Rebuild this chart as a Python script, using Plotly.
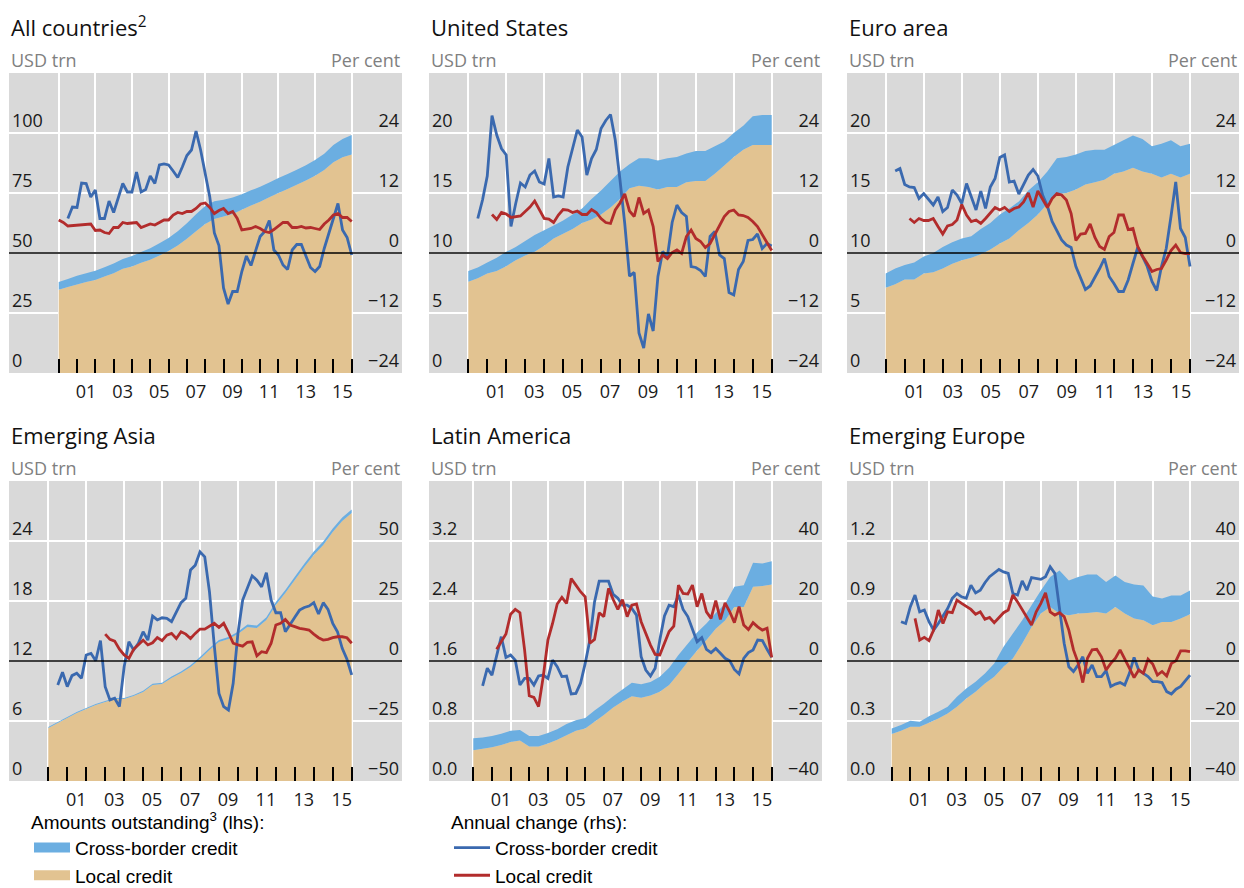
import plotly.graph_objects as go

W, H = 1244, 888

# quarterly grid for the annual-change lines, half-yearly grid for the stocks
quarters = [2000 + q / 4 for q in range(65)]
half_years = [2000 + h / 2 for h in range(33)]
tick_years = list(range(2000, 2017))
grid_years = list(range(2000, 2017, 2))
year_labels = ["", "01", "", "03", "", "05", "", "07", "", "09", "", "11", "", "13", "", "15", ""]

titles = ["All countries<sup>2</sup>", "United States", "Euro area",
          "Emerging Asia", "Latin America", "Emerging Europe"]

# ---- amounts outstanding (USD trn), half-yearly 2000-2016
ac_local = [34.7, 35.8, 36.9, 37.9, 38.8, 40.2, 41.6, 43.4, 44.4, 45.9, 47.2, 49.0, 50.8, 53.1, 55.9, 59.1, 62.1,
            64.2, 65.2, 66.3, 68.0, 69.8, 71.4, 73.2, 75.0, 76.7, 78.4, 80.2, 82.2, 84.6, 87.8, 89.9, 91.0]
ac_cross = [3.2, 3.4, 3.6, 3.7, 3.8, 3.9, 4.0, 4.1, 4.3, 4.5, 4.8, 5.1, 5.5, 6.0, 6.5, 7.0, 7.5,
            7.4, 7.0, 6.8, 6.5, 6.3, 6.2, 6.2, 6.2, 6.2, 6.3, 6.4, 6.6, 6.8, 7.2, 7.6, 8.2]
us_local = [7.6, 7.9, 8.3, 8.5, 8.9, 9.4, 9.8, 10.1, 10.6, 11.2, 11.6, 12.0, 12.5, 12.8, 13.2, 13.8, 14.5,
            15.4, 15.6, 15.5, 15.3, 15.5, 15.5, 15.9, 16.0, 16.0, 16.6, 17.3, 18.0, 18.6, 19.0, 19.0, 19.0]
us_cross = [0.9, 0.9, 0.9, 1.1, 1.2, 1.1, 1.2, 1.4, 1.3, 1.1, 1.1, 1.2, 1.2, 1.7, 2.0, 2.2, 2.3,
            2.0, 2.3, 2.4, 2.4, 2.4, 2.5, 2.4, 2.5, 2.5, 2.3, 2.0, 2.0, 2.0, 2.4, 2.5, 2.5]
ea_local = [7.1, 7.4, 7.8, 7.8, 8.3, 8.4, 8.7, 9.1, 9.4, 9.6, 9.9, 10.3, 10.8, 11.2, 11.9, 12.5, 13.2,
            14.1, 14.9, 15.0, 15.3, 15.7, 15.9, 16.1, 16.6, 16.8, 17.1, 16.8, 16.6, 16.3, 16.6, 16.3, 16.6]
ea_cross = [1.2, 1.3, 1.2, 1.4, 1.4, 1.6, 1.8, 1.8, 1.8, 1.8, 2.1, 2.2, 2.4, 2.5, 2.4, 2.7, 2.7,
            2.7, 3.0, 3.0, 2.9, 2.8, 2.7, 2.5, 2.4, 2.6, 2.7, 2.7, 2.3, 2.8, 2.8, 2.6, 2.5]
asia_local = [5.3, 5.8, 6.3, 6.8, 7.2, 7.6, 7.9, 8.2, 8.2, 8.5, 8.9, 9.6, 9.7, 10.3, 10.8, 11.4, 12.2,
              13.1, 13.9, 14.2, 14.7, 15.4, 15.3, 16.1, 17.6, 18.8, 20.1, 21.4, 22.6, 23.6, 24.9, 26.0, 26.8]
asia_cross = [0.1, 0.1, 0.1, 0.1, 0.1, 0.1, 0.1, 0.1, 0.1, 0.1, 0.12, 0.12, 0.12, 0.14, 0.15, 0.18, 0.2,
              0.2, 0.2, 0.2, 0.22, 0.25, 0.25, 0.28, 0.3, 0.3, 0.32, 0.32, 0.35, 0.35, 0.35, 0.35, 0.35]
latam_local = [0.41, 0.43, 0.45, 0.48, 0.52, 0.54, 0.46, 0.46, 0.50, 0.55, 0.61, 0.67, 0.70, 0.79, 0.88, 0.98, 1.06,
               1.13, 1.11, 1.14, 1.19, 1.28, 1.43, 1.59, 1.74, 1.88, 2.03, 2.14, 2.32, 2.32, 2.59, 2.60, 2.62]
latam_cross = [0.16, 0.15, 0.15, 0.15, 0.15, 0.14, 0.14, 0.14, 0.14, 0.14, 0.15, 0.14, 0.14, 0.15, 0.15, 0.15, 0.16,
               0.18, 0.18, 0.18, 0.20, 0.23, 0.25, 0.24, 0.24, 0.22, 0.21, 0.22, 0.27, 0.29, 0.32, 0.30, 0.31]
emeur_local = [0.235, 0.251, 0.271, 0.271, 0.291, 0.313, 0.338, 0.371, 0.413, 0.446, 0.488, 0.521, 0.571, 0.612,
               0.687, 0.770, 0.837, 0.870, 0.837, 0.829, 0.837, 0.840, 0.845, 0.837, 0.870, 0.837, 0.812, 0.804,
               0.779, 0.795, 0.795, 0.812, 0.834]
emeur_cross = [0.028, 0.029, 0.030, 0.025, 0.033, 0.033, 0.033, 0.050, 0.050, 0.050, 0.049, 0.066, 0.100, 0.125,
               0.117, 0.109, 0.116, 0.150, 0.216, 0.174, 0.183, 0.193, 0.188, 0.158, 0.158, 0.158, 0.171, 0.174,
               0.144, 0.117, 0.133, 0.116, 0.119]

# ---- annual change (per cent), quarterly 2000-2016
ac_cross_chg = [None, None, 6.9, 9.2, 9.1, 14.0, 13.9, 11.2,
                12.6, 6.9, 6.9, 10.4, 8.1, 11.0, 13.9, 12.2,
                12.2, 16.2, 12.2, 12.7, 15.4, 13.9, 17.6, 17.8,
                17.6, 16.4, 15.1, 17.2, 19.5, 20.6, 24.4, 20.6,
                16.0, 11.2, 4.0, 1.5, -7.0, -10.2, -7.7, -7.7,
                -3.7, -0.6, -2.5, 0.6, 3.3, 4.3, 6.5, 0.6,
                -0.4, -2.4, -3.3, 0.6, 1.7, 1.7, -0.7, -2.9,
                -3.7, -2.7, 0.9, 3.9, 6.6, 9.9, 4.6, 3.1, -0.4]
ac_local_chg = [6.6, 6.1, 5.4, 5.5, 5.6, 5.6, 5.7, 5.8,
                4.5, 4.6, 4.1, 3.9, 5.1, 5.1, 6.1, 5.9,
                6.0, 6.1, 5.1, 5.5, 5.8, 5.6, 6.1, 6.6,
                6.6, 7.6, 8.1, 7.9, 8.3, 8.3, 8.9, 9.8,
                10.0, 9.1, 7.9, 8.5, 8.9, 7.9, 8.3, 6.9,
                4.6, 4.7, 4.9, 5.3, 4.9, 4.3, 4.1, 4.7,
                5.4, 6.1, 6.1, 5.1, 5.1, 5.3, 5.0, 5.1,
                4.9, 4.7, 5.8, 6.6, 7.6, 7.9, 7.1, 7.1, 6.3]
us_cross_chg = [None, None, 6.9, 10.6, 15.4, 27.5, 23.6, 20.9,
                19.6, 5.3, 9.9, 14.0, 13.2, 15.6, 16.4, 14.2,
                13.8, 18.9, 11.2, 11.4, 11.2, 17.2, 20.9, 24.6,
                23.2, 15.6, 18.9, 20.7, 24.9, 26.5, 27.7, 22.6,
                14.6, 5.9, -4.6, -3.9, -16.0, -19.0, -12.2, -15.6,
                -4.7, 0.3, -0.7, 6.1, 9.6, 8.1, 7.3, -2.7,
                -2.9, -3.5, -4.7, 3.3, 4.3, -0.4, -1.1, -7.9,
                -8.4, -3.3, -1.7, 2.5, 2.7, 3.8, 0.9, 1.9, 1.4]
us_local_chg = [None, None, None, None, None, 7.7, 6.7, 8.1,
                7.8, 7.1, 7.2, 7.4, 8.3, 9.2, 10.4, 8.6,
                6.9, 6.8, 6.1, 7.6, 8.7, 8.6, 8.1, 8.4,
                7.7, 7.7, 8.7, 8.1, 6.9, 6.1, 5.9, 8.6,
                10.0, 11.8, 8.4, 7.3, 11.1, 7.9, 8.6, 5.3,
                -1.7, -0.4, -1.1, 0.1, 0.6, -0.1, 3.3, 4.6,
                2.9, 2.3, 1.1, 1.9, 3.6, 5.6, 7.3, 8.3,
                8.6, 7.6, 7.5, 7.1, 6.3, 5.3, 3.6, 1.9, 0.5]
ea_cross_chg = [None, None, 16.4, 16.9, 13.7, 13.2, 13.1, 10.9,
                11.9, 10.7, 9.6, 11.2, 8.3, 9.1, 12.6, 11.6,
                9.9, 13.9, 11.2, 8.6, 12.4, 8.9, 13.2, 14.9,
                19.1, 19.6, 14.2, 14.4, 11.8, 13.6, 15.6, 16.7,
                15.4, 11.6, 9.4, 6.3, 4.3, 2.6, 1.6, 1.1,
                -2.7, -5.1, -7.3, -6.6, -4.9, -3.1, -1.1, -4.7,
                -6.1, -7.7, -7.7, -5.4, -2.1, 1.1, -0.7, -2.7,
                -5.7, -7.5, -2.7, 0.9, 7.3, 14.2, 4.9, 3.1, -2.7]
ea_local_chg = [None, None, None, None, None, 6.9, 6.1, 6.9,
                6.5, 6.5, 6.9, 5.3, 3.8, 5.4, 5.7, 6.6,
                9.7, 7.6, 6.3, 6.6, 5.9, 6.9, 8.1, 9.1,
                8.6, 9.1, 8.3, 8.9, 9.2, 10.2, 12.0, 9.2,
                12.4, 10.7, 9.1, 10.9, 11.9, 11.6, 10.6, 7.9,
                2.5, 3.8, 3.9, 5.8, 3.1, 1.3, 0.7, 3.3,
                4.1, 7.6, 7.6, 4.7, 4.9, 1.3, -0.6, -2.1,
                -3.7, -3.3, -3.1, -1.4, 0.5, 1.6, 0.1, -0.1, -0.1]
asia_cross_chg = [None, None, -10.0, -4.7, -10.7, -6.1, -5.1, -7.2,
                  2.5, 3.2, 0.1, 8.5, -10.7, -16.2, -15.5, -19.0,
                  -2.4, 8.0, 4.6, 7.4, 12.2, 8.7, 18.7, 17.1,
                  18.0, 17.8, 16.4, 20.5, 24.3, 26.1, 37.9, 39.9,
                  45.5, 43.4, 28.8, 6.7, -13.5, -19.0, -20.4, -9.3,
                  11.5, 25.4, 30.2, 35.5, 33.7, 30.9, 36.8, 25.4,
                  20.1, 20.1, 12.2, 15.0, 18.2, 21.2, 22.3, 22.9,
                  24.3, 19.6, 24.3, 21.5, 15.7, 12.2, 5.3, 0.7, -5.8]
asia_local_chg = [None, None, None, None, None, None, None, None,
                  None, None, None, None, 11.2, 9.0, 8.3, 4.9,
                  2.5, 1.1, 4.9, 6.7, 8.7, 6.7, 7.6, 9.8,
                  8.5, 10.8, 11.5, 9.4, 12.2, 11.2, 9.4, 11.5,
                  13.3, 13.3, 14.6, 15.7, 14.0, 15.7, 11.8, 7.4,
                  6.7, 6.2, 7.8, 8.0, 2.2, 3.9, 3.5, 7.4,
                  15.0, 15.7, 17.3, 15.0, 14.3, 13.6, 13.3, 12.9,
                  11.2, 9.7, 8.7, 9.0, 9.7, 10.1, 10.1, 9.7, 7.4]
latam_cross_chg = [None, None, -8.3, -2.4, -4.7, 1.4, 8.1, 1.2,
                   2.0, 0.3, -8.0, -5.8, -5.8, -8.0, -5.0, -4.7,
                   -5.8, 0.3, -1.9, -5.2, -5.0, -11.0, -10.8, -7.4,
                   -0.8, 7.0, 19.7, 26.6, 26.6, 26.6, 22.2, 20.9,
                   18.6, 18.6, 17.5, 15.3, 1.4, -3.0, -5.0, -2.4,
                   7.0, 15.0, 18.6, 18.1, 22.0, 17.2, 14.8, 10.3,
                   6.4, 7.8, 3.9, 2.8, 4.2, 2.6, 0.9, 0.1,
                   -2.8, -4.3, 0.9, 2.8, 3.7, 7.0, 6.8, 3.9, 1.2]
latam_local_chg = [None, None, None, None, None, 3.9, 6.4, 9.0,
                   15.6, 17.2, 16.1, 3.7, -11.6, -12.1, -15.2, -5.2,
                   7.0, 12.5, 19.0, 21.2, 19.2, 27.5, 25.3, 23.1,
                   21.4, 5.9, 7.2, 16.1, 14.8, 24.2, 20.5, 17.2,
                   20.5, 14.8, 18.6, 19.0, 13.1, 9.0, 5.3, 2.2,
                   2.0, 5.9, 9.8, 11.6, 25.3, 22.5, 22.3, 25.3,
                   18.1, 22.5, 16.4, 14.2, 20.1, 13.9, 19.4, 16.4,
                   12.8, 18.1, 12.0, 10.5, 12.8, 11.4, 10.3, 10.9, 1.2]
emeur_cross_chg = [None, None, 13.1, 12.5, 18.1, 22.0, 16.4, 17.0,
                   13.1, 10.3, 12.5, 14.8, 17.5, 20.9, 22.5, 21.4,
                   20.9, 25.3, 22.7, 23.6, 26.1, 28.1, 29.2, 30.5,
                   29.7, 29.2, 22.5, 22.0, 26.7, 23.6, 27.8, 27.5,
                   27.2, 28.1, 31.4, 29.2, 18.1, 5.9, -1.9, -3.5,
                   -1.3, 1.4, -4.1, -1.3, -5.2, -5.2, -3.2, -8.5,
                   -7.7, -7.2, -8.0, -4.1, 1.2, -3.0, -4.1, -5.2,
                   -6.9, -6.9, -7.2, -10.2, -11.0, -9.4, -8.5, -6.5, -4.7]
emeur_local_chg = [None, None, None, None, None, 14.2, 7.0, 7.9,
                   6.8, 10.3, 17.0, 12.5, 16.4, 16.1, 20.3, 19.2,
                   18.3, 17.2, 15.6, 16.4, 13.9, 14.5, 12.8, 14.5,
                   16.1, 17.0, 22.0, 19.7, 17.2, 14.5, 12.0, 16.4,
                   19.2, 22.7, 16.4, 15.3, 16.1, 14.8, 10.3, 3.7,
                   -0.6, -7.2, 0.9, 3.7, 3.9, 1.4, -3.0, -0.8,
                   0.9, 3.7, 0.9, -2.4, -5.5, -3.0, -4.1, 0.6,
                   -1.0, -4.7, -3.5, -5.0, -0.8, 0.1, 3.4, 3.4, 3.1]

# axis scales per panel
lhs_ranges = [[0, 125], [0, 25], [0, 25], [0, 30], [0, 4.0], [0, 1.5]]
lhs_ticks = [[0, 25, 50, 75, 100], [0, 5, 10, 15, 20], [0, 5, 10, 15, 20],
             [0, 6, 12, 18, 24], [0, 0.8, 1.6, 2.4, 3.2], [0, 0.3, 0.6, 0.9, 1.2]]
lhs_formats = ["", "", "", "", ".1f", ".1f"]
rhs_ranges = [[-24, 36], [-24, 36], [-24, 36], [-50, 75], [-40, 60], [-40, 60]]
rhs_ticks = [[-24, -12, 0, 12, 24], [-24, -12, 0, 12, 24], [-24, -12, 0, 12, 24],
             [-50, -25, 0, 25, 50], [-40, -20, 0, 20, 40], [-40, -20, 0, 20, 40]]

panels = [
    (ac_local, ac_cross, ac_cross_chg, ac_local_chg),
    (us_local, us_cross, us_cross_chg, us_local_chg),
    (ea_local, ea_cross, ea_cross_chg, ea_local_chg),
    (asia_local, asia_cross, asia_cross_chg, asia_local_chg),
    (latam_local, latam_cross, latam_cross_chg, latam_local_chg),
    (emeur_local, emeur_cross, emeur_cross_chg, emeur_local_chg),
]

LOCAL_FILL = "#E2C391"
CROSS_FILL = "#6BAEE1"
CROSS_LINE = "#3A69AF"
LOCAL_LINE = "#B22C2C"
BG = "#D9D9D9"
FONT = "Open Sans, Noto Sans, sans-serif"
LEG_FONT = "Liberation Sans, Arial, sans-serif"

# pixel layout of the plot boxes
col_px = [(9, 402), (429, 822), (847, 1239)]
row_px = [(73, 373), (481, 781)]
data_px = [(58.7, 351.7), (468.3, 771.7), (885.7, 1190), (48.3, 351.7), (473.3, 771.7), (891.7, 1190)]
title_y = [27, 435]
unit_y = [60, 468]

fig = go.Figure()
layout = {}
shapes = []
annotations = []

for k, (loc, crs, crs_chg, loc_chg) in enumerate(panels):
    row, col = divmod(k, 3)
    xa = "x" if k == 0 else f"x{k + 1}"
    yl = "y" if k == 0 else f"y{2 * k + 1}"
    yr = f"y{2 * k + 2}"

    fig.add_trace(go.Scatter(x=half_years, y=loc, stackgroup=f"s{k}", mode="none", fillcolor=LOCAL_FILL,
                             name="Local credit", showlegend=False, xaxis=xa, yaxis=yl, hoverinfo="skip"))
    fig.add_trace(go.Scatter(x=half_years, y=crs, stackgroup=f"s{k}", mode="none", fillcolor=CROSS_FILL,
                             name="Cross-border credit", showlegend=False, xaxis=xa, yaxis=yl, hoverinfo="skip"))
    fig.add_trace(go.Scatter(x=quarters, y=crs_chg, mode="lines", line=dict(color=CROSS_LINE, width=2.8),
                             name="Cross-border credit", legend="legend2", showlegend=(k == 0),
                             xaxis=xa, yaxis=yr))
    fig.add_trace(go.Scatter(x=quarters, y=loc_chg, mode="lines", line=dict(color=LOCAL_LINE, width=2.8),
                             name="Local credit", legend="legend2", showlegend=(k == 0),
                             xaxis=xa, yaxis=yr))

    x0p, x1p = col_px[col]
    y0p, y1p = row_px[row]
    start, end = data_px[k]
    ppy = (end - start) / 16
    xrange = [2000 - (start - x0p) / ppy, 2016 + (x1p - end) / ppy]

    tickfont = dict(family=FONT, size=18, color="#1a1a1a")
    layout["xaxis" if k == 0 else f"xaxis{k + 1}"] = dict(
        domain=[x0p / W, x1p / W], anchor=yl, range=xrange,
        tickmode="array", tickvals=tick_years, ticktext=year_labels,
        ticks="inside", ticklen=14, tickwidth=1.5, tickcolor="black",
        ticklabelshift=int(round(ppy / 2)), ticklabelstandoff=6, tickfont=tickfont,
        showgrid=False, zeroline=False, showline=False, fixedrange=True,
        minor=dict(tickmode="array", tickvals=grid_years, ticks="", showgrid=True,
                   gridcolor="white", gridwidth=1.5),
    )
    layout["yaxis" if k == 0 else f"yaxis{2 * k + 1}"] = dict(
        domain=[1 - y1p / H, 1 - y0p / H], anchor=xa, range=lhs_ranges[k],
        tickmode="array", tickvals=lhs_ticks[k], tickformat=lhs_formats[k],
        ticks="", ticklabelposition="inside top", tickfont=tickfont,
        showgrid=True, gridcolor="white", gridwidth=1.5, zeroline=False, fixedrange=True,
    )
    layout[f"yaxis{2 * k + 2}"] = dict(
        overlaying=yl, side="right", anchor=xa, range=rhs_ranges[k],
        tickmode="array", tickvals=rhs_ticks[k],
        ticks="", ticklabelposition="inside top", tickfont=tickfont,
        showgrid=False, zeroline=False, fixedrange=True,
    )

    shapes.append(dict(type="line", xref=f"{xa} domain", x0=0, x1=1, yref=yr, y0=0, y1=0,
                       line=dict(color="black", width=1.5), layer="above"))

    annotations.append(dict(text=titles[k], x=x0p / W, y=1 - title_y[row] / H, xref="paper", yref="paper",
                            xanchor="left", yanchor="middle", showarrow=False,
                            font=dict(family=FONT, size=22, color="#111111")))
    annotations.append(dict(text="USD trn", x=x0p / W, y=1 - unit_y[row] / H, xref="paper", yref="paper",
                            xanchor="left", yanchor="middle", showarrow=False,
                            font=dict(family=FONT, size=18, color="#808080")))
    annotations.append(dict(text="Per cent", x=x1p / W, y=1 - unit_y[row] / H, xref="paper", yref="paper",
                            xanchor="right", yanchor="middle", showarrow=False,
                            font=dict(family=FONT, size=18, color="#808080")))

# legend keys for the stacked areas (thick swatches)
fig.add_trace(go.Scatter(x=[None], y=[None], mode="lines", line=dict(color=CROSS_FILL, width=16),
                         name="Cross-border credit", legend="legend", hoverinfo="skip"))
fig.add_trace(go.Scatter(x=[None], y=[None], mode="lines", line=dict(color=LOCAL_FILL, width=16),
                         name="Local credit", legend="legend", hoverinfo="skip"))

leg_font = dict(family=LEG_FONT, size=19, color="black")
fig.update_layout(
    width=W, height=H,
    margin=dict(l=0, r=0, t=0, b=0, autoexpand=False),
    paper_bgcolor="white", plot_bgcolor=BG,
    shapes=shapes, annotations=annotations,
    legend=dict(title=dict(text="Amounts outstanding<sup>3</sup> (lhs):", font=leg_font),
                x=29 / W, y=1 - 804 / H, xanchor="left", yanchor="top", font=leg_font,
                traceorder="normal", bgcolor="rgba(0,0,0,0)", itemwidth=36, tracegroupgap=0),
    legend2=dict(title=dict(text="Annual change (rhs):", font=leg_font),
                 x=449 / W, y=1 - 804 / H, xanchor="left", yanchor="top", font=leg_font,
                 traceorder="normal", bgcolor="rgba(0,0,0,0)", itemwidth=36, tracegroupgap=0),
    **layout,
)

# pin the figure to the top-left corner of the window
post = """
document.body.style.margin = '0';
document.body.style.overflow = 'hidden';
var gd = document.getElementById('{plot_id}');
gd.style.position = 'fixed'; gd.style.left = '0px'; gd.style.top = '0px';
"""
fig.write_html("out.html", post_script=post, config={"displayModeBar": False})
